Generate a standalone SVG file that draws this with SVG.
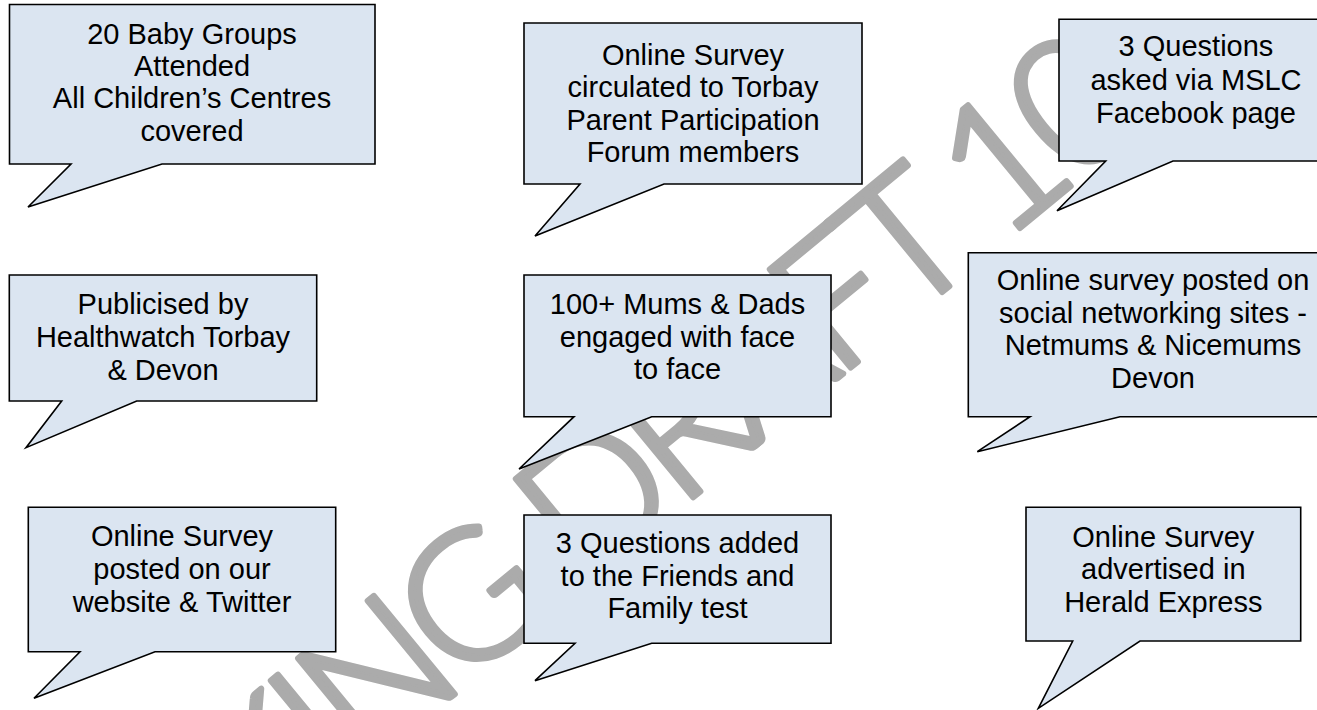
<svg xmlns="http://www.w3.org/2000/svg" width="1317" height="710" viewBox="0 0 1317 710">
  <style>
    .bubble { fill: #dbe5f1; stroke: #000; stroke-width: 1.6; stroke-linejoin: miter; }
    .label { font-family: "Liberation Sans", Arial, sans-serif; font-size: 29px; fill: #000; text-anchor: middle; }
    .mark { font-family: Lato, "DejaVu Sans", sans-serif; font-size: 180px; font-weight: 300; fill: #ababab; stroke: #ababab; stroke-width: 6; stroke-linejoin: round; stroke-linecap: round; }
  </style>
  <rect width="1317" height="710" fill="#fff"/>

  <!-- diagonal watermark, drawn under the callouts -->
  <g id="watermark">
    <text class="mark" transform="translate(-50,1110) rotate(-39.5)" x="0" y="0" textLength="1560" lengthAdjust="spacing">WORKING DRAFT 10</text>
  </g>

  <g id="callout-baby-groups">
    <path class="bubble" d="M9.5,4.5 H375 V164 H162 L28,207 L71,164 H9.5 Z"/>
    <text class="label"><tspan x="192" y="43.5">20 Baby Groups</tspan><tspan x="192" y="76">Attended</tspan><tspan x="192" y="108.3">All Children’s Centres</tspan><tspan x="192" y="140.7">covered</tspan></text>
  </g>

  <g id="callout-parent-forum">
    <path class="bubble" d="M524,23 H862 V184 H664 L535,236 L580,184 H524 Z"/>
    <text class="label"><tspan x="693" y="65">Online Survey</tspan><tspan x="693" y="97.3">circulated to Torbay</tspan><tspan x="693" y="129.6">Parent Participation</tspan><tspan x="693" y="161.9">Forum members</tspan></text>
  </g>

  <g id="callout-facebook">
    <path class="bubble" d="M1059,19.3 H1335 V161 H1173 L1057,210.7 L1105.7,161 H1059 Z"/>
    <text class="label"><tspan x="1196" y="56">3 Questions</tspan><tspan x="1196" y="90">asked via MSLC</tspan><tspan x="1196" y="123.3">Facebook page</tspan></text>
  </g>

  <g id="callout-healthwatch">
    <path class="bubble" d="M9.3,275 H316.7 V401 H136.7 L26,447.7 L61.7,401 H9.3 Z"/>
    <text class="label"><tspan x="163" y="314">Publicised by</tspan><tspan x="163" y="347">Healthwatch Torbay</tspan><tspan x="163" y="379.5">&amp; Devon</tspan></text>
  </g>

  <g id="callout-face-to-face">
    <path class="bubble" d="M524,275 H831 V416.7 H651.7 L519,469 L574,416.7 H524 Z"/>
    <text class="label"><tspan x="677.5" y="314">100+ Mums &amp; Dads</tspan><tspan x="677.5" y="346.5">engaged with face</tspan><tspan x="677.5" y="379.3">to face</tspan></text>
  </g>

  <g id="callout-social-networks">
    <path class="bubble" d="M968.3,252.7 H1338 V416.7 H1120 L977.3,451.7 L1030,416.7 H968.3 Z"/>
    <text class="label"><tspan x="1153" y="290">Online survey posted on</tspan><tspan x="1153" y="322.7">social networking sites -</tspan><tspan x="1153" y="355">Netmums &amp; Nicemums</tspan><tspan x="1153" y="387.7">Devon</tspan></text>
  </g>

  <g id="callout-website">
    <path class="bubble" d="M28.3,507.3 H335.7 V651.7 H155 L34,698.3 L80,651.7 H28.3 Z"/>
    <text class="label"><tspan x="182" y="546">Online Survey</tspan><tspan x="182" y="578.5">posted on our</tspan><tspan x="182" y="611.5">website &amp; Twitter</tspan></text>
  </g>

  <g id="callout-friends-family">
    <path class="bubble" d="M524,515 H831 V643.3 H651.7 L535,680.7 L575,643.3 H524 Z"/>
    <text class="label"><tspan x="677.5" y="553.3">3 Questions added</tspan><tspan x="677.5" y="586">to the Friends and</tspan><tspan x="677.5" y="618.3">Family test</tspan></text>
  </g>

  <g id="callout-herald">
    <path class="bubble" d="M1026,507.3 H1300.7 V641 H1140 L1038.3,708.3 L1072.7,641 H1026 Z"/>
    <text class="label"><tspan x="1163.3" y="546.7">Online Survey</tspan><tspan x="1163.3" y="579.3">advertised in</tspan><tspan x="1163.3" y="612.3">Herald Express</tspan></text>
  </g>

  <g id="connectors"></g>
</svg>
